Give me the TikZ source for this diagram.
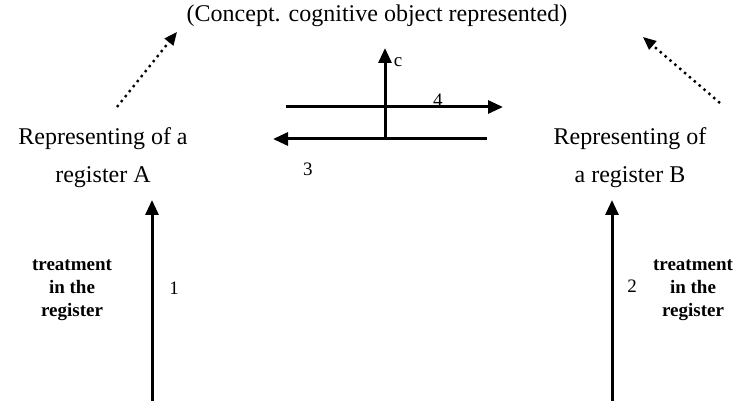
\documentclass[tikz,border=0pt]{standalone}
\usepackage{fontspec}
\setmainfont{Liberation Serif}
\usetikzlibrary{arrows.meta,positioning}

\begin{document}
\begin{tikzpicture}[x=0.5pt,y=-0.5pt,
        solid arrow/.style={draw=black,line width=1.5pt,-{Triangle[length=7.5pt,width=6.5pt]}},
        dot arrow/.style={draw=black,line width=1.2pt,dotted,-{Triangle[length=6.5pt,width=5.5pt]}},
        label/.style={font=\fontsize{12}{14}\selectfont,align=center,inner sep=1pt},
        treat/.style={font=\fontsize{9.5}{11.5}\selectfont\bfseries,align=center,inner sep=1pt},
        num/.style={font=\fontsize{9.5}{10}\selectfont,inner sep=1pt}
      ]
        \useasboundingbox (0,0) rectangle (741,401);

        % Concept at the top, the two representants below.
        \node[label] (concept) at (377,16) {(Concept. cognitive object represented)};
        \node[label] (repA) at (103,158) {Representing of a\\[5pt]register A};
        \node[label] (repB) at (630,158) {Representing of\\[5pt]a register B};

        % Dotted links to the concept.
        \coordinate (dotA) at (117,107);
        \coordinate (tipA) at (177,32);
        \coordinate (dotB) at (720,103);
        \coordinate (tipB) at (643,37);
        \draw[dot arrow] (dotA) -- (tipA);
        \draw[dot arrow] (dotB) -- (tipB);

        % Treatments inside each register.
        \coordinate (baseA) at (152,401);
        \coordinate (topA) at (152,200);
        \coordinate (baseB) at (612,401);
        \coordinate (topB) at (612,200);
        \draw[solid arrow] (baseA) -- (topA);
        \draw[solid arrow] (baseB) -- (topB);
        \node[num] (one) at (174,288) {1};
        \node[num] (two) at (632,286) {2};
        \node[treat] (treatA) at (72,290) {treatment\\in the\\register};
        \node[treat] (treatB) at (693,290) {treatment\\in the\\register};

        % Conversions between the registers.
        \coordinate (convL) at (286,107);
        \coordinate (convR) at (503,107);
        \coordinate (backR) at (487,139);
        \coordinate (backL) at (273,139);
        \coordinate (axisB) at (385,139);
        \coordinate (axisT) at (385,48);
        \draw[solid arrow] (convL) -- (convR);
        \draw[solid arrow] (backR) -- (backL);
        \draw[solid arrow] (axisB) -- (axisT);
        \node[num] (four) at (438,100) {4};
        \node[num] (three) at (308,169) {3};
        \node[num] (cee) at (398,62) {c};
      \end{tikzpicture}
\end{document}
